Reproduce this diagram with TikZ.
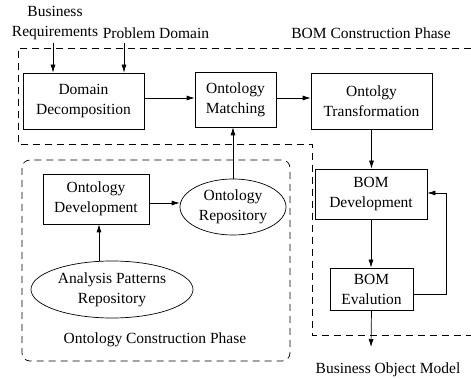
\documentclass[tikz,border=0pt]{standalone}
\usepackage{fontspec}
\setmainfont{Liberation Serif}
\usetikzlibrary{shapes.geometric,arrows.meta}
\begin{document}
\begin{tikzpicture}[x=1pt,y=-1pt,
  font=\fontsize{15.5}{20}\selectfont,
  line width=0.7pt,
  arr/.style={-{Latex[length=8pt,width=5pt]}},
  box/.style={draw,rectangle,inner sep=0pt,align=center},
  ell/.style={draw,ellipse,inner sep=0pt,align=center},
  phase/.style={dash pattern=on 7pt off 5pt},
  lbl/.style={inner sep=0pt,align=center}]
\useasboundingbox (0,0) rectangle (471,379);
% phase regions
\draw[phase] (471,48) -- (18,48) -- (18,144) -- (312,144) -- (312,335) -- (471,335);
\draw[phase,rounded corners=8pt] (22,160) rectangle (290,361);
% labels
\node[lbl] (br) at (55,23) {Business\\Requirements};
\node[lbl] (pd) at (156,33) {Problem Domain};
\node[lbl] (bcp) at (371,33) {BOM Construction Phase};
\node[lbl] (ocp) at (155,340) {Ontology Construction Phase};
\node[lbl] (bom) at (388,370) {Business Object Model};
% boxes
\node[box,minimum width=121pt,minimum height=56pt] (dd) at (83.5,101) {Domain\\Decomposition};
\node[box,minimum width=81pt,minimum height=55pt] (om) at (235.5,99.5) {Ontology\\Matching};
\node[box,minimum width=121pt,minimum height=56pt] (ot) at (371.5,101) {Ontolgy\\Transformation};
\node[box,minimum width=112pt,minimum height=50pt] (bd) at (371,194) {BOM\\Development};
\node[box,minimum width=83pt,minimum height=42pt] (be) at (371.5,289) {BOM\\Evalution};
\node[box,minimum width=106pt,minimum height=50pt] (od) at (96,199) {Ontology\\Development};
\node[ell,minimum width=106pt,minimum height=56pt] (or) at (233,207) {Ontology\\Repository};
\node[ell,minimum width=162pt,minimum height=57pt] (apr) at (112,289.5) {Analysis Patterns\\Repository};
% connectors
\coordinate (bra) at (53,43);
\coordinate (pda) at (124,43);
\coordinate (bomend) at (371,347);
\draw[arr] (bra) -- (bra |- dd.north);
\draw[arr] (pda) -- (pda |- dd.north);
\draw[arr] (dd.east |- 0,98) -- (om.west |- 0,98);
\draw[arr] (om.east |- 0,98) -- (ot.west |- 0,98);
\draw[arr] (ot.south) -- (ot.south |- bd.north);
\draw[arr] (bd.south) -- (bd.south |- be.north);
\draw[arr] (be.east |- 0,294) -- (446,294) -- (446,193) -- (bd.east |- 0,193);
\draw[arr] (be.south) -- (bomend);
\draw[arr] (od.east |- 0,203) -- (or.west |- 0,203);
\draw[arr] (apr.north -| 99,0) -- (od.south -| 99,0);
\draw[arr] (or.north) -- (om.south -| or.north);
\end{tikzpicture}
\end{document}
